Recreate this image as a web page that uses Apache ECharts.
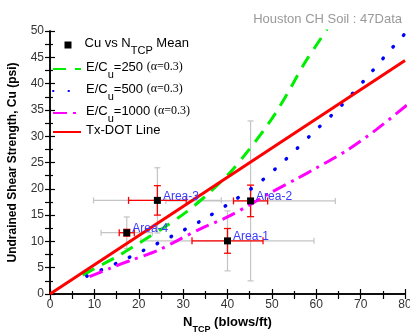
<!DOCTYPE html>
<html>
<head>
<meta charset="utf-8">
<script src="https://cdn.jsdelivr.net/npm/echarts@6/dist/echarts.min.js"></script>
<style>
  html, body { margin: 0; padding: 0; background: #fff; }
  #chart { width: 410px; height: 334px; }
</style>
</head>
<body>
<div id="chart"></div>
<script>
  // mean values per area (N_TCP, Cu)
  var areaNames = ['Area-1', 'Area-2', 'Area-3', 'Area-4']
  var meanN = [40, 45.2, 24.2, 17.3]
  var meanCu = [10.1, 17.7, 17.8, 11.65]
  // red error bars (inner)
  var redErrN = [8, 3.85, 6.5, 1.7]
  var redErrCu = [2.35, 3.0, 2.8, 0.65]
  // grey error bars (outer)
  var grayErrN = [19.5, 19.1, 14.4, 5.8]
  var grayErrCu = [5.7, 15.2, 6.2, 3.0]

  // E/Cu curves
  var ec250 = [[7.4, 3.6], [10.2, 4.9], [15.1, 7.1], [20.3, 9.8], [25.6, 12.6], [30.9, 15.7], [36.1, 19.4],
    [41, 23.5], [45.1, 27.7], [48.5, 31.5], [51.3, 35.0], [54.3, 39.3], [57.3, 43.8], [62.5, 50.4]]
  var ec500 = [[8.3, 3.4], [14.9, 5.8], [21.1, 8.3], [27.5, 11.0], [34, 13.9], [40.2, 17.1], [46.6, 20.8],
    [53, 25.5], [59.1, 30.5], [65.4, 35.6], [71, 40.8], [76.6, 46.3], [80, 49.5]]
  var ec1000 = [[8.9, 3.3], [13.6, 4.9], [18.5, 6.5], [24.1, 8.2], [29, 10.3], [33.9, 12.4], [39.9, 14.6],
    [45.1, 17.0], [49.6, 19.2], [55.6, 21.9], [60.1, 24.0], [66.9, 27.3], [73.6, 31.3], [80.4, 35.9]]
  var txdot = [[0, 0], [80, 44.4]]

  var font = 'Liberation Sans, Arial, sans-serif'

  var chart = echarts.init(document.getElementById('chart'))

  function errorBars(errN, errCu, color, width, cap) {
    return {
      type: 'custom',
      silent: true,
      z: 1,
      data: meanN.map(function (n, i) { return [n, meanCu[i], errN[i], errCu[i]] }),
      renderItem: function (params, api) {
        var x = api.value(0), y = api.value(1), ex = api.value(2), ey = api.value(3)
        var l = api.coord([x - ex, y]), r = api.coord([x + ex, y])
        var t = api.coord([x, y + ey]), b = api.coord([x, y - ey])
        var st = { stroke: color, lineWidth: width }
        return {
          type: 'group',
          children: [
            { type: 'line', shape: { x1: l[0], y1: l[1], x2: r[0], y2: r[1] }, style: st },
            { type: 'line', shape: { x1: l[0], y1: l[1] - cap, x2: l[0], y2: l[1] + cap }, style: st },
            { type: 'line', shape: { x1: r[0], y1: r[1] - cap, x2: r[0], y2: r[1] + cap }, style: st },
            { type: 'line', shape: { x1: t[0], y1: t[1], x2: b[0], y2: b[1] }, style: st },
            { type: 'line', shape: { x1: t[0] - cap, y1: t[1], x2: t[0] + cap, y2: t[1] }, style: st },
            { type: 'line', shape: { x1: b[0] - cap, y1: b[1], x2: b[0] + cap, y2: b[1] }, style: st }
          ]
        }
      }
    }
  }

  var richText = {
    t: { fontSize: 13, fontFamily: font, color: '#000', lineHeight: 16, verticalAlign: 'top' },
    s: { fontSize: 11, fontFamily: font, color: '#000', lineHeight: 11, padding: [8, 0, 0, 0], verticalAlign: 'top' },
    g: { fontSize: 12, fontFamily: 'Liberation Serif, Times New Roman, serif', color: '#000', lineHeight: 16, verticalAlign: 'top' }
  }
  var legendLabels = {
    'Cu vs NTCP Mean': '{t|Cu vs N}{s|TCP}{t| Mean}',
    'E/Cu=250': '{t|E/C}{s|u}{t|=250 }{g|(α=0.3)}',
    'E/Cu=500': '{t|E/C}{s|u}{t|=500 }{g|(α=0.3)}',
    'E/Cu=1000': '{t|E/C}{s|u}{t|=1000 }{g|(α=0.3)}',
    'Tx-DOT Line': '{t|Tx-DOT Line}'
  }

  var tickLine = { color: '#000', width: 1.2 }

  var option = {
    animation: false,
    backgroundColor: '#fff',
    title: {
      text: 'Houston CH Soil : 47Data',
      right: 3,
      top: 8,
      textStyle: { color: '#999', fontSize: 13, fontWeight: 'normal', fontFamily: font }
    },
    grid: { left: 50, right: 5, top: 31, bottom: 40, outerBoundsMode: 'none', containLabel: false },
    legend: [{
      data: ['Cu vs NTCP Mean'],
      left: 64.5,
      top: 37,
      padding: 0,
      itemWidth: 7,
      itemHeight: 7,
      selectedMode: false,
      formatter: function (name) { return legendLabels[name] },
      textStyle: { rich: richText, padding: [0, 0, 0, 8] }
    }, {
      data: ['E/Cu=250', 'E/Cu=500', 'E/Cu=1000'],
      orient: 'vertical',
      left: 52,
      top: 61,
      padding: 0,
      itemWidth: 28,
      itemHeight: 14,
      itemGap: 3,
      selectedMode: false,
      itemStyle: { opacity: 0 },
      formatter: function (name) { return legendLabels[name] },
      textStyle: { rich: richText }
    }, {
      data: ['Tx-DOT Line'],
      left: 52,
      top: 124,
      padding: 0,
      itemWidth: 28,
      itemHeight: 14,
      selectedMode: false,
      itemStyle: { opacity: 0 },
      formatter: function (name) { return legendLabels[name] },
      textStyle: { rich: richText }
    }],
    xAxis: [{
      type: 'value',
      min: 0,
      max: 80,
      interval: 10,
      name: '{b|N}{bs|TCP}{b| (blows/ft)}',
      nameLocation: 'middle',
      nameGap: 20,
      nameTextStyle: {
        rich: {
          b: { fontSize: 13, fontWeight: 'bold', fontFamily: font, color: '#000', lineHeight: 16, verticalAlign: 'top' },
          bs: { fontSize: 9, fontWeight: 'bold', fontFamily: font, color: '#000', lineHeight: 9, padding: [9, 0, 0, 0], verticalAlign: 'top' }
        }
      },
      axisLine: { lineStyle: { color: '#000', width: 1.5 } },
      axisTick: { inside: true, length: 5, lineStyle: tickLine },
      minorTick: { show: true, splitNumber: 2, length: 3, lineStyle: tickLine },
      axisLabel: { color: '#333', fontSize: 12, fontFamily: font, margin: 5 },
      splitLine: { show: false }
    }, {
      type: 'value',
      position: 'top',
      min: 0,
      max: 80,
      interval: 5,
      axisLine: { lineStyle: { color: '#000', width: 1.5 } },
      axisTick: { inside: true, length: 5, lineStyle: tickLine },
      axisLabel: { show: false },
      splitLine: { show: false }
    }],
    yAxis: [{
      type: 'value',
      min: 0,
      max: 50,
      interval: 5,
      name: 'Undrained Shear Strength, Cu (psi)',
      nameLocation: 'middle',
      nameGap: 31,
      nameTextStyle: { fontSize: 12, fontWeight: 'bold', fontFamily: font, color: '#000' },
      axisLine: { lineStyle: { color: '#000', width: 1.5 } },
      axisTick: { inside: true, length: 5, lineStyle: tickLine },
      minorTick: { show: true, splitNumber: 2, length: 3, lineStyle: tickLine },
      axisLabel: { color: '#333', fontSize: 12, fontFamily: font, margin: 6 },
      splitLine: { show: false }
    }, {
      type: 'value',
      position: 'right',
      min: 0,
      max: 50,
      interval: 2.5,
      axisLine: { lineStyle: { color: '#000', width: 1.5 } },
      axisTick: { inside: true, length: 5, lineStyle: tickLine },
      axisLabel: { show: false },
      splitLine: { show: false }
    }],
    series: [
      errorBars(grayErrN, grayErrCu, '#c4c4c4', 1.2, 3),
      errorBars(redErrN, redErrCu, '#ff0000', 1.3, 3.5),
      {
        name: 'E/Cu=250',
        type: 'line',
        data: ec250,
        smooth: 0.3,
        showSymbol: false,
        symbol: 'none',
        z: 3,
        color: '#00ee00',
        lineStyle: { color: '#00ee00', width: 3, type: [13, 9] }
      },
      {
        name: 'E/Cu=500',
        type: 'line',
        data: ec500,
        smooth: 0.3,
        showSymbol: false,
        symbol: 'none',
        z: 3,
        color: '#0000ff',
        lineStyle: { color: '#0000ff', width: 3.5, type: [0.5, 15], cap: 'round' }
      },
      {
        name: 'E/Cu=1000',
        type: 'line',
        data: ec1000,
        smooth: 0.3,
        showSymbol: false,
        symbol: 'none',
        z: 3,
        color: '#ff00ff',
        lineStyle: { color: '#ff00ff', width: 3, type: [14, 6, 3, 6] }
      },
      {
        name: 'Tx-DOT Line',
        type: 'line',
        data: txdot,
        showSymbol: false,
        symbol: 'none',
        z: 4,
        color: '#ff0000',
        lineStyle: { color: '#ff0000', width: 3 }
      },
      {
        name: 'Cu vs NTCP Mean',
        type: 'scatter',
        data: meanN.map(function (n, i) { return [n, meanCu[i]] }),
        symbol: 'rect',
        symbolSize: 7,
        z: 5,
        itemStyle: { color: '#000', opacity: 1 },
        label: {
          show: true,
          position: 'right',
          distance: 2,
          offset: [0, -4],
          formatter: function (p) { return areaNames[p.dataIndex] },
          color: '#3a3aff',
          fontSize: 12,
          fontFamily: font
        }
      }
    ]
  }

  chart.setOption(option)
</script>
</body>
</html>
